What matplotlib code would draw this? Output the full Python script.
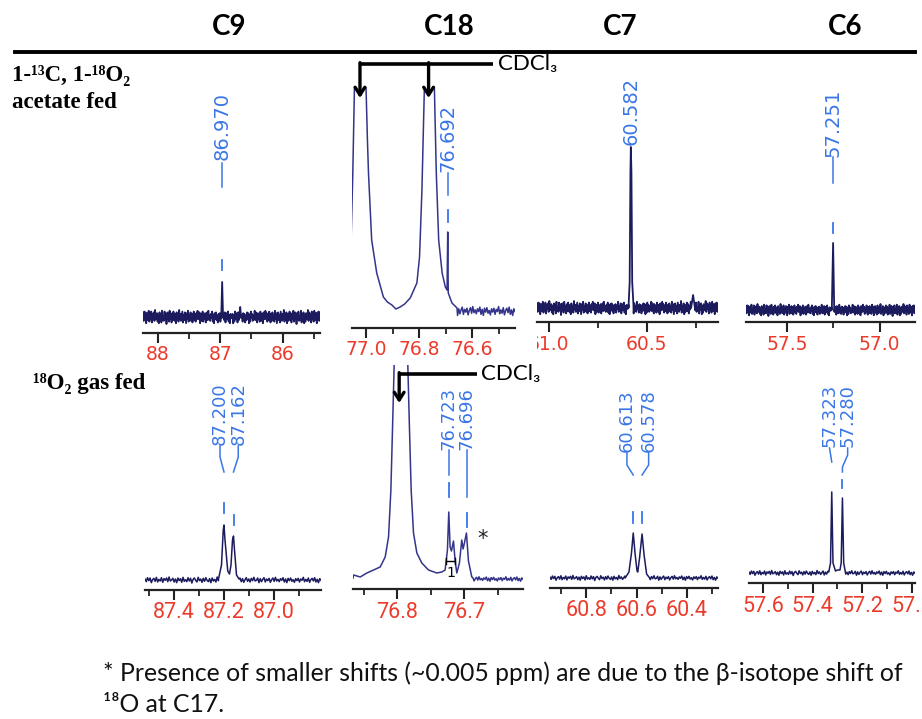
import numpy as np
import matplotlib
matplotlib.use('Agg')
import matplotlib.pyplot as plt
from matplotlib.lines import Line2D
from matplotlib.transforms import Bbox, TransformedBbox, blended_transform_factory

W, H = 922, 719
fig = plt.figure(figsize=(W / 100, H / 100), dpi=100)

# ------------------------------------------------------------------ data
headers = ['C9', 'C18', 'C7', 'C6']

# typed baseline-noise pattern (relative units, estimated from the spectra)
noise_pattern = [3, -5, 7, -2, 6, -8, 1, 5, -4, 8, -6, 2, -3, 7, -7, 4, -1, 6, -5, 9,
                 -3, 0, 5, -6, 3, -8, 6, -2, 4, -7, 8, -4, 1, -5, 7, -3, 5, -9, 2, 6,
                 -1, -6, 8, -2, 3, -7, 5, -4, 7, -1, -5, 4, -8, 6, -3, 2, -6, 9, -2, 4,
                 -5, 1, 7, -7, 3, -4, 6, -1, -8, 5, -2, 8, -6, 2, -3, 6, -5, 4, -7, 1,
                 7, -4, 3, -6, 5, -2, 8, -3, -1, 6, -8, 4, -5, 2, 7, -6, 3, -2, 5, -7,
                 1, 6, -4, 8, -3, 2, -5, 4, -1, 7, -6, 3, -8, 5, -2, 6, -4, 1, -7, 4,
                 -2, 5, -6, 3, -1, 8, -5, 2, -4, 6, -7, 1, 5, -3, 7, -6, 2, -8, 4, -1]

# ---- top row: 1-13C, 1-18O2 acetate fed
t_c9_base, t_c9_noise = 16, 7
t_c9_peak_ppm = [86.985, 86.970, 86.955]
t_c9_peak_int = [15, 51, 15]
t_c9_bump_ppm = [86.695, 86.680, 86.665]
t_c9_bump_int = [17, 26, 15]
t_c9_labels = ['86.970']
t_c9_label_ppm = [86.970]
t_c9_major = [88, 87, 86]
t_c9_minor = [87.5, 86.5, 85.5]
t_c9_ticklabels = ['88', '87', '86']

t_c18_base, t_c18_noise = 17, 5
t_c18_ppm = [77.0566, 77.050, 77.044, 77.023, 77.000, 76.995, 76.991, 76.979, 76.960,
             76.935, 76.920, 76.903, 76.888, 76.872, 76.855, 76.834, 76.809, 76.799,
             76.790, 76.781, 76.762, 76.743, 76.736, 76.727, 76.714, 76.702, 76.6955,
             76.693, 76.691, 76.677, 76.658]
t_c18_int = [85, 155, 238, 420, 238, 188, 155, 88, 55,
             31, 26, 23, 19, 21, 24, 30, 45, 71,
             138, 238, 420, 238, 155, 88, 55, 41, 38,
             96, 35, 25, 20]
t_c18_solvent_ppm = [77.023, 76.765]
t_c18_labels = ['76.692']
t_c18_label_ppm = [76.692]
t_c18_major = [77.0, 76.8, 76.6]
t_c18_minor = [76.9, 76.7, 76.5]
t_c18_ticklabels = ['77.0', '76.8', '76.6']

t_c7_base, t_c7_noise = 14, 7
t_c7_peak_ppm = [60.594, 60.588, 60.584, 60.582, 60.579, 60.575, 60.569]
t_c7_peak_int = [14, 40, 150, 175, 150, 40, 18]
t_c7_bump_ppm = [60.275, 60.265, 60.255]
t_c7_bump_int = [14, 27, 14]
t_c7_labels = ['60.582']
t_c7_label_ppm = [60.582]
t_c7_major = [61.0, 60.5]
t_c7_minor = [60.75, 60.25]
t_c7_ticklabels = ['61.0', '60.5']

t_c6_base, t_c6_noise = 12, 6
t_c6_peak_ppm = [57.258, 57.251, 57.245]
t_c6_peak_int = [12, 79, 12]
t_c6_labels = ['57.251']
t_c6_label_ppm = [57.251]
t_c6_major = [57.5, 57.0]
t_c6_minor = [57.25]
t_c6_ticklabels = ['57.5', '57.0']

# ---- bottom row: 18O2 gas fed
b_c9_base, b_c9_noise = 10, 3
b_c9_peak_ppm = [87.222, 87.210, 87.203, 87.200, 87.196, 87.185, 87.178, 87.172,
                 87.166, 87.162, 87.158, 87.150, 87.140]
b_c9_peak_int = [11, 25, 60, 65, 50, 19, 16, 25, 50, 54, 40, 15, 11]
b_c9_labels = ['87.200', '87.162']
b_c9_label_ppm = [87.200, 87.162]
b_c9_major = [87.4, 87.2, 87.0]
b_c9_minor = [87.5, 87.3, 87.1, 86.9]
b_c9_ticklabels = ['87.4', '87.2', '87.0']

b_c18_base, b_c18_noise = 10, 2.5
b_c18_ppm = [76.8652, 76.8552, 76.8453, 76.8353, 76.8254, 76.8179, 76.8129, 76.8094,
             76.8065, 76.8045, 76.7955, 76.7841, 76.7821, 76.7791, 76.7756, 76.7706,
             76.7632, 76.7532, 76.7408, 76.7333, 76.7284, 76.7249, 76.7229, 76.7209,
             76.7189, 76.7159, 76.7134, 76.7109, 76.7070, 76.7035, 76.7015, 76.6995,
             76.6965, 76.6935, 76.6885]
b_c18_int = [14, 12, 16, 19, 22, 32, 52, 99,
             172, 224, 420, 224, 172, 99, 56, 36,
             26, 19, 16, 17, 19, 39, 77, 42,
             38, 48, 28, 16, 26, 49, 40, 46,
             56, 28, 12]
b_c18_solvent_ppm = [76.797]
b_c18_labels = ['76.723', '76.696']
b_c18_label_ppm = [76.723, 76.696]
b_c18_major = [76.8, 76.7]
b_c18_minor = [76.85, 76.75, 76.65]
b_c18_ticklabels = ['76.8', '76.7']

b_c7_base, b_c7_noise = 10, 2.5
b_c7_peak_ppm = [60.645, 60.630, 60.620, 60.613, 60.606, 60.598, 60.595, 60.588,
                 60.578, 60.570, 60.560, 60.548]
b_c7_peak_int = [10, 16, 35, 55, 35, 17, 16, 30, 54, 33, 14, 10]
b_c7_labels = ['60.613', '60.578']
b_c7_label_ppm = [60.613, 60.578]
b_c7_major = [60.8, 60.6, 60.4]
b_c7_minor = [60.9, 60.7, 60.5, 60.3]
b_c7_ticklabels = ['60.8', '60.6', '60.4']

b_c6_base, b_c6_noise = 10, 2.5
b_c6_peak_ppm = [57.335, 57.328, 57.323, 57.318, 57.308, 57.300, 57.290, 57.285,
                 57.280, 57.275, 57.268]
b_c6_peak_int = [11, 20, 91, 20, 12, 13, 13, 20, 85, 20, 11]
b_c6_labels = ['57.323', '57.280']
b_c6_label_ppm = [57.323, 57.280]
b_c6_major = [57.6, 57.4, 57.2, 57.0]
b_c6_minor = [57.5, 57.3, 57.1]
b_c6_ticklabels = ['57.6', '57.4', '57.2', '57.0']

# ------------------------------------------------------------------ style
NAVY = '#1b1b5e'
NAVY2 = '#34348a'
RED = '#ec3b2b'
BLUE = '#3a76e6'
SANS = ['DejaVu Sans']
NARROW = ['Roboto', 'DejaVu Sans']
CAL = ['Lato', 'DejaVu Sans']
SERIF = ['Liberation Serif', 'DejaVu Serif']


def fy(y):
    return 1 - y / H


def make_ax(x0, x1, ytop, yspine, xlim, major, minor, ticklabels, tfont, tsize):
    ax = fig.add_axes([x0 / W, 1 - yspine / H, (x1 - x0) / W, (yspine - ytop) / H])
    ax.set_xlim(xlim)
    ax.set_ylim(0, yspine - ytop)
    for s in ['top', 'left', 'right']:
        ax.spines[s].set_visible(False)
    ax.spines['bottom'].set_linewidth(1.6)
    ax.spines['bottom'].set_color('#222222')
    ax.set_yticks([])
    ax.patch.set_alpha(0)
    ax.set_xticks(major)
    ax.set_xticklabels(ticklabels, color=RED, fontsize=tsize, family=tfont)
    ax.set_xticks(minor, minor=True)
    ax.tick_params(axis='x', which='major', length=7, width=1.5, color='#222222', pad=2)
    ax.tick_params(axis='x', which='minor', length=4, width=1.3, color='#222222')
    return ax


def build_trace(xlim, base, amp, groups, dense=False):
    pat = list(noise_pattern)
    if dense:
        pat = pat + pat[::-1]
    pat = np.array(pat, dtype=float) / 9.0
    grid = np.linspace(xlim[0], xlim[1], len(pat))
    yv = base + amp * pat
    keep = np.ones(len(grid), dtype=bool)
    xs, ys = [], []
    for gp, gi in groups:
        lo, hi = min(gp), max(gp)
        keep &= (grid < lo) | (grid > hi)
        xs.extend(gp)
        ys.extend(gi)
    x = np.concatenate([grid[keep], np.array(xs, dtype=float)])
    y = np.concatenate([yv[keep], np.array(ys, dtype=float)])
    order = np.argsort(-x)
    return x[order], y[order]


def peak_label(ax, text, x_text, x_peak, y_text, conn, dash, fs):
    ax.text(x_text, y_text, text, rotation=90, ha='center', va='bottom',
            color=BLUE, fontsize=fs, family=SANS)
    if conn is not None:
        xs = [x_text] * (len(conn) - 1) + [x_peak]
        if len(conn) == 4:
            xs = [x_text, x_text, x_peak, x_peak]
        ax.plot(xs, conn, color=BLUE, lw=1.1, clip_on=False)
    if dash is not None:
        ax.plot([x_peak, x_peak], dash, color=BLUE, lw=1.3, clip_on=False)


def solvent_arrows(ax, xs_ppm, x_end_ppm, y_line, y_tip):
    tr = blended_transform_factory(ax.transData, fig.transFigure)
    ax.plot([xs_ppm[0], x_end_ppm], [fy(y_line)] * 2, transform=tr, color='k', lw=2.6,
            clip_on=False, solid_capstyle='butt')
    for p in xs_ppm:
        ax.annotate('', xy=(p, fy(y_tip)), xytext=(p, fy(y_line - 1.3)), xycoords=tr, textcoords=tr,
                    arrowprops=dict(arrowstyle='->,head_length=0.55,head_width=0.35', lw=2.4,
                                    color='k', shrinkA=0, shrinkB=0), annotation_clip=False)
    ax.annotate('CDCl\u2083', xy=(x_end_ppm, fy(y_line)), xycoords=tr, xytext=(3, 0),
                textcoords='offset points', ha='left', va='center',
                fontsize=16, family=CAL, color='k', annotation_clip=False)


# ------------------------------------------------------------------ top row
TOP = 87
xl = (88.24, 85.40)
ax = make_ax(143, 320, TOP, 333, xl, t_c9_major, t_c9_minor, t_c9_ticklabels, SANS, 13.5)
x, y = build_trace(xl, t_c9_base, t_c9_noise,
                   [(t_c9_peak_ppm, t_c9_peak_int), (t_c9_bump_ppm, t_c9_bump_int)], dense=True)
ax.plot(x, y, color=NAVY, lw=1.3)
peak_label(ax, t_c9_labels[0], t_c9_label_ppm[0], t_c9_label_ppm[0], 173, [170, 146], [73, 63], 14)

xl = (77.053, 76.44)
ax = make_ax(352, 515, TOP, 328, xl, t_c18_major, t_c18_minor, t_c18_ticklabels, SANS, 13.5)
x, y = build_trace(xl, t_c18_base, t_c18_noise, [(t_c18_ppm, t_c18_int)])
ax.plot(x, y, color=NAVY2, lw=1.1)
peak_label(ax, t_c18_labels[0], t_c18_label_ppm[0], t_c18_label_ppm[0], 156, [155, 133], [118, 106], 14)
solvent_arrows(ax, t_c18_solvent_ppm, 76.521, 64, 98)

xl = (61.06, 60.138)
ax_t7 = make_ax(537, 718, TOP, 322, xl, t_c7_major, t_c7_minor, t_c7_ticklabels, SANS, 13.5)
x, y = build_trace(xl, t_c7_base, t_c7_noise,
                   [(t_c7_peak_ppm, t_c7_peak_int), (t_c7_bump_ppm, t_c7_bump_int)], dense=True)
ax_t7.plot(x, y, color=NAVY, lw=1.3)
peak_label(ax_t7, t_c7_labels[0], t_c7_label_ppm[0], t_c7_label_ppm[0], 177, None, None, 14)

xl = (57.72, 56.81)
ax = make_ax(746, 915, TOP, 322, xl, t_c6_major, t_c6_minor, t_c6_ticklabels, SANS, 13.5)
x, y = build_trace(xl, t_c6_base, t_c6_noise, [(t_c6_peak_ppm, t_c6_peak_int)], dense=True)
ax.plot(x, y, color=NAVY, lw=1.3)
peak_label(ax, t_c6_labels[0], t_c6_label_ppm[0], t_c6_label_ppm[0], 165, [165, 139], [99, 89], 14)

# ------------------------------------------------------------------ bottom row
BOT = 365
xl = (87.516, 86.812)
ax = make_ax(145, 321, BOT, 590, xl, b_c9_major, b_c9_minor, b_c9_ticklabels, NARROW, 15.5)
x, y = build_trace(xl, b_c9_base, b_c9_noise, [(b_c9_peak_ppm, b_c9_peak_int)])
ax.plot(x, y, color=NAVY, lw=1.1)
peak_label(ax, b_c9_labels[0], 87.216, b_c9_label_ppm[0], 145, [144, 133, 118], [87, 77], 13)
peak_label(ax, b_c9_labels[1], 87.143, b_c9_label_ppm[1], 145, [144, 133, 118], [75, 65], 13)

xl = (76.866, 76.612)
ax = make_ax(353, 523, BOT, 589, xl, b_c18_major, b_c18_minor, b_c18_ticklabels, NARROW, 15.5)
x, y = build_trace(xl, b_c18_base, b_c18_noise, [(b_c18_ppm, b_c18_int)])
ax.plot(x, y, color=NAVY2, lw=1.1)
peak_label(ax, b_c18_labels[0], b_c18_label_ppm[0], b_c18_label_ppm[0], 139, [139, 114], [106, 92], 13)
peak_label(ax, b_c18_labels[1], b_c18_label_ppm[1], b_c18_label_ppm[1], 139, [139, 92], [76, 62], 13)
solvent_arrows(ax, b_c18_solvent_ppm, 76.681, 374, 403)
ax.text(76.672, 50, '*', fontsize=15, ha='center', va='center', color='#222222')
ax.plot([76.727, 76.713], [28, 28], color='k', lw=1.0)
ax.plot([76.727, 76.727], [25, 31], color='k', lw=1.0)
ax.plot([76.713, 76.713], [25, 31], color='k', lw=1.0)
ax.text(76.720, 23, '1', fontsize=10, ha='center', va='top', color='k')

xl = (60.943, 60.277)
ax = make_ax(550, 718, BOT, 588, xl, b_c7_major, b_c7_minor, b_c7_ticklabels, NARROW, 15.5)
x, y = build_trace(xl, b_c7_base, b_c7_noise, [(b_c7_peak_ppm, b_c7_peak_int)])
ax.plot(x, y, color=NAVY, lw=1.1)
peak_label(ax, b_c7_labels[0], 60.638, b_c7_label_ppm[0], 136, [135, 123, 113], [76, 65], 13)
peak_label(ax, b_c7_labels[1], 60.552, b_c7_label_ppm[1], 136, [135, 123, 113], [76, 65], 13)

xl = (57.656, 56.988)
ax = make_ax(749, 915, BOT, 583, xl, b_c6_major, b_c6_minor, b_c6_ticklabels, NARROW, 15.5)
x, y = build_trace(xl, b_c6_base, b_c6_noise, [(b_c6_peak_ppm, b_c6_peak_int)])
ax.plot(x, y, color=NAVY, lw=1.1)
peak_label(ax, b_c6_labels[0], 57.332, b_c6_label_ppm[0], 136, [135, 121], None, 13)
peak_label(ax, b_c6_labels[1], 57.259, b_c6_label_ppm[1], 136, [135, 128, 116, 111], [103, 95], 13)

# ------------------------------------------------------------------ headers & text
for name, xc in zip(headers, [229, 449, 620, 845]):
    fig.text(xc / W, fy(27), name, ha='center', va='center', fontsize=20,
             fontweight='bold', family=CAL)
fig.add_artist(Line2D([15 / W, 915 / W], [fy(52), fy(52)], lw=2.8, color='k'))

fig.text(12 / W, fy(75), '1-\u00b9\u00b3C, 1-\u00b9\u2078O\u2082', ha='left', va='center',
         fontsize=16.5, fontweight='bold', family=SERIF)
fig.text(12 / W, fy(103), 'acetate fed', ha='left', va='center',
         fontsize=16.5, fontweight='bold', family=SERIF)
fig.text(33 / W, fy(383), '\u00b9\u2078O\u2082 gas fed', ha='left', va='center',
         fontsize=16.5, fontweight='bold', family=SERIF)

fn1 = fig.text(103 / W, fy(673), '* Presence of smaller shifts (~0.005 ppm) are due to the \u03b2-isotope shift of',
               ha='left', va='center', fontsize=15, family=CAL, color='#111111')
fn2 = fig.text(103 / W, fy(705), '\u00b9\u2078O at C17.', ha='left', va='center',
               fontsize=15, family=CAL, color='#111111')

fig.canvas.draw()
bb = fn1.get_window_extent()
fs = 15 * 802 / bb.width
fn1.set_fontsize(fs)
fn2.set_fontsize(fs)

clip = TransformedBbox(Bbox([[537 / W, 0], [1, 1]]), fig.transFigure)
for lbl in ax_t7.get_xticklabels():
    lbl.set_clip_on(True)
    lbl.set_clip_box(clip)

fig.savefig('out.png', dpi=100, facecolor='white')
